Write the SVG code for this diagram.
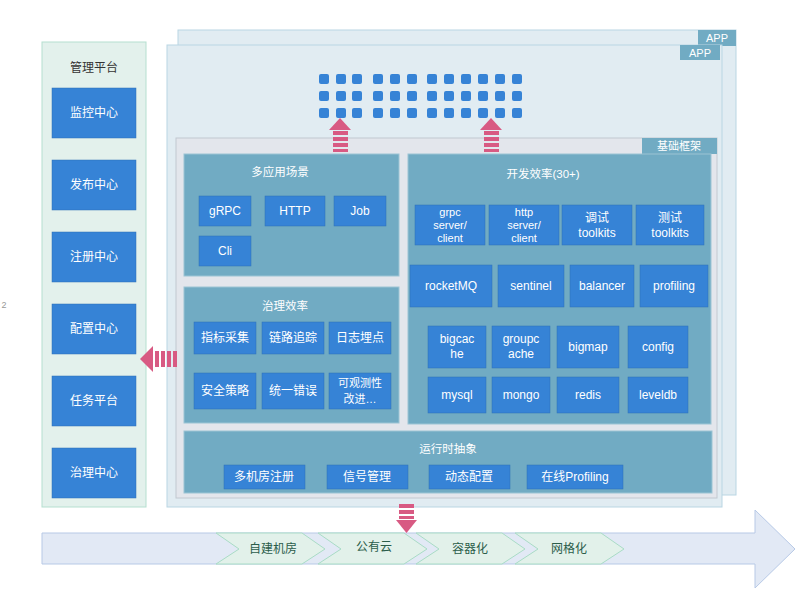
<svg xmlns="http://www.w3.org/2000/svg" width="800" height="595" viewBox="0 0 800 595">
<style>
text{font-family:"Liberation Sans","Noto Sans CJK SC",sans-serif;text-anchor:middle;dominant-baseline:central}
.btn{fill:#3683d6;stroke:#2f6fb5;stroke-width:0.5}
.bt{fill:#fff;font-size:12px}
.bs{fill:#fff;font-size:11px}
.sec{fill:#71abc3;stroke:#9cc4d4}
.st{fill:#fff;font-size:11.5px}
.tag{fill:#71abc3}
.dot{fill:#3683d6}
.pk{fill:#d85a83}
.chev{fill:#e2f1ea;stroke:#a9dcc6}
.ct{fill:#2b5d4a;font-size:12px}
</style>
<rect width="800" height="595" fill="#fff"/>
<text x="4" y="305" style="font-size:9px;fill:#999">2</text>
<g id="platform">
<rect x="42" y="42" width="104" height="465" fill="#e3f1ec" stroke="#b5dfd0"/>
<text x="94" y="68" style="font-size:12px;fill:#333">管理平台</text>
<rect class="btn" x="52" y="88" width="84" height="50"/><text class="bt" x="94" y="113">监控中心</text>
<rect class="btn" x="52" y="160" width="84" height="50"/><text class="bt" x="94" y="185">发布中心</text>
<rect class="btn" x="52" y="232" width="84" height="50"/><text class="bt" x="94" y="257">注册中心</text>
<rect class="btn" x="52" y="304" width="84" height="50"/><text class="bt" x="94" y="329">配置中心</text>
<rect class="btn" x="52" y="376" width="84" height="50"/><text class="bt" x="94" y="401">任务平台</text>
<rect class="btn" x="52" y="448" width="84" height="50"/><text class="bt" x="94" y="473">治理中心</text>
</g>
<g id="app-back">
<rect x="178" y="30" width="558" height="465" fill="#e1ecf2" stroke="#b9d6e3"/>
<rect class="tag" x="698" y="30" width="38" height="16"/><text x="717" y="38" style="font-size:11px;fill:#fff">APP</text>
</g>
<g id="app-front">
<rect x="167" y="45" width="555" height="462" fill="#e1ecf2" stroke="#b9d6e3"/>
<rect class="tag" x="680" y="45" width="40" height="15"/><text x="700" y="52.5" style="font-size:11px;fill:#fff">APP</text>
<g id="dots">
<rect class="dot" x="319" y="74" width="10" height="10" rx="2"/><rect class="dot" x="336" y="74" width="10" height="10" rx="2"/><rect class="dot" x="352" y="74" width="10" height="10" rx="2"/>
<rect class="dot" x="373" y="74" width="10" height="10" rx="2"/><rect class="dot" x="390" y="74" width="10" height="10" rx="2"/><rect class="dot" x="407" y="74" width="10" height="10" rx="2"/>
<rect class="dot" x="427" y="74" width="10" height="10" rx="2"/><rect class="dot" x="444" y="74" width="10" height="10" rx="2"/><rect class="dot" x="461" y="74" width="10" height="10" rx="2"/><rect class="dot" x="478" y="74" width="10" height="10" rx="2"/><rect class="dot" x="495" y="74" width="10" height="10" rx="2"/><rect class="dot" x="512" y="74" width="10" height="10" rx="2"/>
<rect class="dot" x="319" y="91" width="10" height="10" rx="2"/><rect class="dot" x="336" y="91" width="10" height="10" rx="2"/><rect class="dot" x="352" y="91" width="10" height="10" rx="2"/>
<rect class="dot" x="373" y="91" width="10" height="10" rx="2"/><rect class="dot" x="390" y="91" width="10" height="10" rx="2"/><rect class="dot" x="407" y="91" width="10" height="10" rx="2"/>
<rect class="dot" x="427" y="91" width="10" height="10" rx="2"/><rect class="dot" x="444" y="91" width="10" height="10" rx="2"/><rect class="dot" x="461" y="91" width="10" height="10" rx="2"/><rect class="dot" x="478" y="91" width="10" height="10" rx="2"/><rect class="dot" x="495" y="91" width="10" height="10" rx="2"/><rect class="dot" x="512" y="91" width="10" height="10" rx="2"/>
<rect class="dot" x="319" y="108" width="10" height="10" rx="2"/><rect class="dot" x="336" y="108" width="10" height="10" rx="2"/><rect class="dot" x="352" y="108" width="10" height="10" rx="2"/>
<rect class="dot" x="373" y="108" width="10" height="10" rx="2"/><rect class="dot" x="390" y="108" width="10" height="10" rx="2"/><rect class="dot" x="407" y="108" width="10" height="10" rx="2"/>
<rect class="dot" x="427" y="108" width="10" height="10" rx="2"/><rect class="dot" x="444" y="108" width="10" height="10" rx="2"/><rect class="dot" x="461" y="108" width="10" height="10" rx="2"/><rect class="dot" x="478" y="108" width="10" height="10" rx="2"/><rect class="dot" x="495" y="108" width="10" height="10" rx="2"/><rect class="dot" x="512" y="108" width="10" height="10" rx="2"/>
</g>
</g>
<g id="framework">
<rect x="176" y="138" width="541" height="360" fill="#e3e6ec" stroke="#c2c8d0"/>
<rect class="tag" x="642" y="138" width="75" height="16"/><text x="679" y="146" style="font-size:11px;fill:#fff">基础框架</text>
</g>
<g id="scenes">
<rect class="sec" x="184" y="154" width="215" height="122"/>
<text class="st" x="280" y="172">多应用场景</text>
<rect class="btn" x="199" y="196" width="52" height="30"/><text class="bt" x="225" y="211">gRPC</text>
<rect class="btn" x="265" y="196" width="60" height="30"/><text class="bt" x="295" y="211">HTTP</text>
<rect class="btn" x="334" y="196" width="52" height="30"/><text class="bt" x="360" y="211">Job</text>
<rect class="btn" x="199" y="236" width="52" height="30"/><text class="bt" x="225" y="251">Cli</text>
</g>
<g id="governance">
<rect class="sec" x="184" y="287" width="215" height="136"/>
<text class="st" x="285" y="306">治理效率</text>
<rect class="btn" x="194" y="322" width="62" height="32"/><text class="bt" x="225" y="338">指标采集</text>
<rect class="btn" x="262" y="322" width="62" height="32"/><text class="bt" x="293" y="338">链路追踪</text>
<rect class="btn" x="329" y="322" width="62" height="32"/><text class="bt" x="360" y="338">日志埋点</text>
<rect class="btn" x="194" y="373" width="62" height="36"/><text class="bt" x="225" y="391">安全策略</text>
<rect class="btn" x="262" y="373" width="62" height="36"/><text class="bt" x="293" y="391">统一错误</text>
<rect class="btn" x="329" y="373" width="62" height="36"/><text class="bs" x="360" y="383">可观测性</text><text class="bs" x="360" y="399">改进…</text>
</g>
<g id="devefficiency">
<rect class="sec" x="408" y="154" width="303" height="270"/>
<text class="st" x="543" y="174">开发效率(30+)</text>
<rect class="btn" x="415" y="205" width="70" height="40"/><text class="bs" x="450" y="212">grpc</text><text class="bs" x="450" y="225">server/</text><text class="bs" x="450" y="238">client</text>
<rect class="btn" x="489" y="205" width="70" height="40"/><text class="bs" x="524" y="212">http</text><text class="bs" x="524" y="225">server/</text><text class="bs" x="524" y="238">client</text>
<rect class="btn" x="562" y="205" width="70" height="40"/><text class="bt" x="597" y="218">调试</text><text class="bt" x="597" y="233">toolkits</text>
<rect class="btn" x="636" y="205" width="68" height="40"/><text class="bt" x="670" y="218">测试</text><text class="bt" x="670" y="233">toolkits</text>
<rect class="btn" x="410" y="265" width="82" height="42"/><text class="bt" x="451" y="286">rocketMQ</text>
<rect class="btn" x="498" y="265" width="66" height="42"/><text class="bt" x="531" y="286">sentinel</text>
<rect class="btn" x="570" y="265" width="64" height="42"/><text class="bt" x="602" y="286">balancer</text>
<rect class="btn" x="640" y="265" width="68" height="42"/><text class="bt" x="674" y="286">profiling</text>
<rect class="btn" x="428" y="326" width="58" height="42"/><text class="bt" x="457" y="339">bigcac</text><text class="bt" x="457" y="354">he</text>
<rect class="btn" x="492" y="326" width="58" height="42"/><text class="bt" x="521" y="339">groupc</text><text class="bt" x="521" y="354">ache</text>
<rect class="btn" x="557" y="326" width="62" height="42"/><text class="bt" x="588" y="347">bigmap</text>
<rect class="btn" x="628" y="326" width="60" height="42"/><text class="bt" x="658" y="347">config</text>
<rect class="btn" x="428" y="377" width="58" height="36"/><text class="bt" x="457" y="395">mysql</text>
<rect class="btn" x="492" y="377" width="58" height="36"/><text class="bt" x="521" y="395">mongo</text>
<rect class="btn" x="557" y="377" width="62" height="36"/><text class="bt" x="588" y="395">redis</text>
<rect class="btn" x="628" y="377" width="60" height="36"/><text class="bt" x="658" y="395">leveldb</text>
</g>
<g id="runtime">
<rect class="sec" x="184" y="431" width="528" height="62"/>
<text class="st" x="448" y="449">运行时抽象</text>
<rect class="btn" x="224" y="465" width="81" height="24"/><text class="bt" x="264" y="477">多机房注册</text>
<rect class="btn" x="327" y="465" width="81" height="24"/><text class="bt" x="367" y="477">信号管理</text>
<rect class="btn" x="429" y="465" width="81" height="24"/><text class="bt" x="469" y="477">动态配置</text>
<rect class="btn" x="527" y="465" width="96" height="24"/><text class="bt" x="575" y="477">在线Profiling</text>
</g>
<g id="timeline">
<polygon points="42,533 755,533 755,510 795,549 755,588 755,564 42,564" fill="#e2e9f5" stroke="#b7c9e6"/>
<polygon class="chev" points="216,533 302,533 325,549 302,564 216,564 239,549"/>
<text class="ct" x="273" y="549">自建机房</text>
<polygon class="chev" points="318,533 404,533 427,549 404,564 318,564 341,549"/>
<text class="ct" x="374" y="547">公有云</text>
<polygon class="chev" points="416,533 502,533 525,549 502,564 416,564 439,549"/>
<text class="ct" x="470" y="549">容器化</text>
<polygon class="chev" points="515,533 601,533 624,549 601,564 515,564 538,549"/>
<text class="ct" x="569" y="549">网格化</text>
</g>
<g id="connectors">
<g class="pk">
<polygon points="340,118 351,130 329,130"/><rect x="333" y="131" width="15" height="4"/><rect x="333" y="137" width="15" height="4"/><rect x="333" y="143" width="15" height="4"/><rect x="333" y="149" width="15" height="3"/>
<polygon points="491,118 502,130 480,130"/><rect x="484" y="131" width="15" height="4"/><rect x="484" y="137" width="15" height="4"/><rect x="484" y="143" width="15" height="4"/><rect x="484" y="149" width="15" height="3"/>
<polygon points="140,359 153,346 153,372"/><rect x="155" y="351" width="4" height="16"/><rect x="161" y="351" width="4" height="16"/><rect x="167" y="351" width="4" height="16"/><rect x="173" y="351" width="4" height="16"/>
<rect x="399" y="504" width="15" height="4"/><rect x="399" y="510" width="15" height="4"/><rect x="399" y="516" width="15" height="3"/><polygon points="396,520 417,520 406.5,533"/>
</g>
</g>
</svg>
